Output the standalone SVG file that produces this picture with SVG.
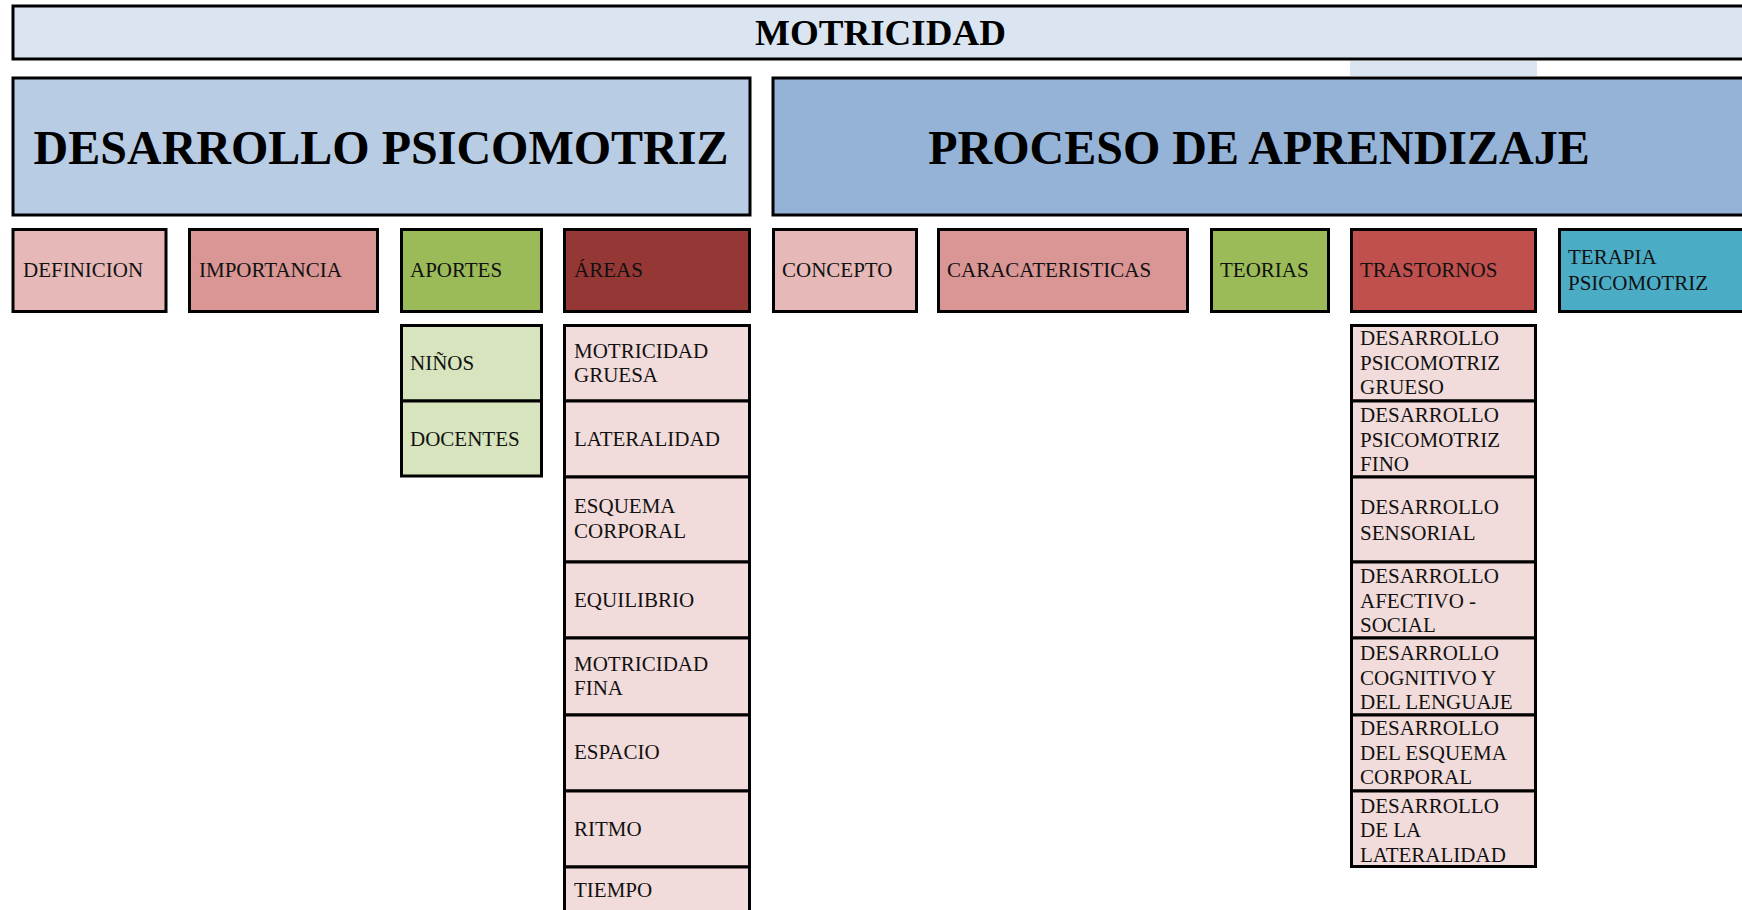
<svg xmlns="http://www.w3.org/2000/svg" width="1742" height="910" viewBox="0 0 1742 910">
<style>
rect.b{stroke:#000;stroke-width:3}
text{font-family:"Liberation Serif","Times New Roman",serif;fill:#111}
text.s{font-size:21px}
text.h{font-size:48px;font-weight:bold;fill:#000}
text.t{font-size:35px;font-weight:bold;fill:#000}
.lb{fill:#DBE5F1}.db{fill:#B8CCE4}.mb{fill:#95B3D7}
.p1{fill:#E6B9B8}.p2{fill:#D99694}.gr{fill:#9BBB59}.dr{fill:#953735}
.rd{fill:#C0504D}.cy{fill:#4BACC6}.lg{fill:#D7E4BD}.pk{fill:#F2DCDB}
</style>
<rect x="0" y="0" width="1742" height="910" fill="#fff"/>
<g id="connectors"></g>
<rect x="1350" y="61" width="187" height="15" class="lb"/>
<g id="motricidad"><rect class="b lb" x="13" y="6" width="1745" height="53"/><text class="t" x="755" y="45" textLength="251" lengthAdjust="spacingAndGlyphs">MOTRICIDAD</text></g>
<g id="desarrollo"><rect class="b db" x="13" y="78" width="737" height="137"/><text class="h" x="381" y="164" text-anchor="middle">DESARROLLO PSICOMOTRIZ</text></g>
<g id="proceso"><rect class="b mb" x="773" y="78" width="985" height="137"/><text class="h" x="1259" y="164" text-anchor="middle">PROCESO DE APRENDIZAJE</text></g>
<g id="definicion"><rect class="b p1" x="13" y="229.5" width="153" height="82"/><text class="s" x="23" y="277">DEFINICION</text></g>
<g id="importancia"><rect class="b p2" x="189.5" y="229.5" width="188" height="82"/><text class="s" x="199" y="277">IMPORTANCIA</text></g>
<g id="aportes"><rect class="b gr" x="401.5" y="229.5" width="140" height="82"/><text class="s" x="410" y="277">APORTES</text></g>
<g id="areas"><rect class="b dr" x="564.5" y="229.5" width="185" height="82"/><text class="s" x="574" y="277">ÁREAS</text></g>
<g id="concepto"><rect class="b p1" x="773.5" y="229.5" width="143" height="82"/><text class="s" x="782" y="277">CONCEPTO</text></g>
<g id="caracteristicas"><rect class="b p2" x="938.5" y="229.5" width="249" height="82"/><text class="s" x="947" y="277">CARACATERISTICAS</text></g>
<g id="teorias"><rect class="b gr" x="1211.5" y="229.5" width="117" height="82"/><text class="s" x="1220" y="277">TEORIAS</text></g>
<g id="trastornos"><rect class="b rd" x="1351.5" y="229.5" width="184" height="82"/><text class="s" x="1360" y="277">TRASTORNOS</text></g>
<g id="terapia"><rect class="b cy" x="1559.5" y="229.5" width="200" height="82"/><text class="s" x="1568" y="264">TERAPIA</text><text class="s" x="1568" y="290">PSICOMOTRIZ</text></g>
<g id="ninos"><rect class="b lg" x="401.5" y="325.5" width="140" height="75.5"/><text class="s" x="410" y="370">NIÑOS</text></g>
<g id="docentes"><rect class="b lg" x="401.5" y="401" width="140" height="75"/><text class="s" x="410" y="446">DOCENTES</text></g>
<g id="a1"><rect class="b pk" x="564.5" y="325.5" width="185" height="75.5"/><text class="s" x="574" y="358">MOTRICIDAD</text><text class="s" x="574" y="382">GRUESA</text></g>
<g id="a2"><rect class="b pk" x="564.5" y="401" width="185" height="76"/><text class="s" x="574" y="446">LATERALIDAD</text></g>
<g id="a3"><rect class="b pk" x="564.5" y="477" width="185" height="85"/><text class="s" x="574" y="513">ESQUEMA</text><text class="s" x="574" y="538">CORPORAL</text></g>
<g id="a4"><rect class="b pk" x="564.5" y="562" width="185" height="76"/><text class="s" x="574" y="607">EQUILIBRIO</text></g>
<g id="a5"><rect class="b pk" x="564.5" y="638" width="185" height="77"/><text class="s" x="574" y="671">MOTRICIDAD</text><text class="s" x="574" y="695">FINA</text></g>
<g id="a6"><rect class="b pk" x="564.5" y="715" width="185" height="76"/><text class="s" x="574" y="759">ESPACIO</text></g>
<g id="a7"><rect class="b pk" x="564.5" y="791" width="185" height="76"/><text class="s" x="574" y="836">RITMO</text></g>
<g id="a8"><rect class="b pk" x="564.5" y="867" width="185" height="60"/><text class="s" x="574" y="897">TIEMPO</text></g>
<g id="t1"><rect class="b pk" x="1351.5" y="325.5" width="184" height="75.5"/><text class="s" x="1360" y="345">DESARROLLO</text><text class="s" x="1360" y="370">PSICOMOTRIZ</text><text class="s" x="1360" y="394">GRUESO</text></g>
<g id="t2"><rect class="b pk" x="1351.5" y="401" width="184" height="76"/><text class="s" x="1360" y="422">DESARROLLO</text><text class="s" x="1360" y="447">PSICOMOTRIZ</text><text class="s" x="1360" y="471">FINO</text></g>
<g id="t3"><rect class="b pk" x="1351.5" y="477" width="184" height="85"/><text class="s" x="1360" y="514">DESARROLLO</text><text class="s" x="1360" y="540">SENSORIAL</text></g>
<g id="t4"><rect class="b pk" x="1351.5" y="562" width="184" height="76"/><text class="s" x="1360" y="583">DESARROLLO</text><text class="s" x="1360" y="608">AFECTIVO -</text><text class="s" x="1360" y="632">SOCIAL</text></g>
<g id="t5"><rect class="b pk" x="1351.5" y="638" width="184" height="77"/><text class="s" x="1360" y="660">DESARROLLO</text><text class="s" x="1360" y="685">COGNITIVO Y</text><text class="s" x="1360" y="709">DEL LENGUAJE</text></g>
<g id="t6"><rect class="b pk" x="1351.5" y="715" width="184" height="76"/><text class="s" x="1360" y="735">DESARROLLO</text><text class="s" x="1360" y="760">DEL ESQUEMA</text><text class="s" x="1360" y="784">CORPORAL</text></g>
<g id="t7"><rect class="b pk" x="1351.5" y="791" width="184" height="75.5"/><text class="s" x="1360" y="813">DESARROLLO</text><text class="s" x="1360" y="837">DE LA</text><text class="s" x="1360" y="862">LATERALIDAD</text></g>
</svg>
